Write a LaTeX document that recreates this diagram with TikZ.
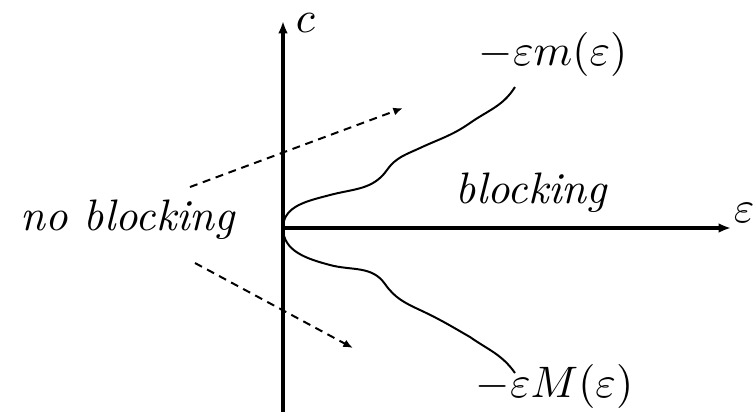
\documentclass[tikz,border=0pt]{standalone}
\usepackage{amsmath}
\usetikzlibrary{arrows.meta,positioning,calc}
\tikzset{
  axis/.style={
    line width=0.7pt,
    -{Latex[length=2.8pt,width=2.2pt]}
  },
  curve/.style={
    line width=0.45pt
  },
  hint/.style={
    line width=0.45pt,
    dash pattern=on 1.8pt off 1.3pt,
    -{Latex[length=2.2pt,width=1.8pt]}
  },
  region/.style={
    font=\itshape,
    inner sep=0pt
  }
}

\begin{document}
\begin{tikzpicture}[x=0.2268pt,y=0.2268pt]
\useasboundingbox (0,0) rectangle (756,417);

% axes
\coordinate (O) at (283,189);
\coordinate (cbot) at (283,5);
\coordinate (ctop) at (283,396);
\coordinate (eend) at (731,189);
\draw[axis] (cbot) -- (ctop);
\draw[axis] (O) -- (eend);
\node[anchor=base west, inner sep=0pt] (clab) at (295,385) {$c$};
\node[anchor=base west, inner sep=0pt] (elab) at (733,195) {$\varepsilon$};

% boundary curves
\node[anchor=base west, inner sep=0pt] (mlab) at (478,352) {$-\varepsilon m(\varepsilon)$};
\node[anchor=base west, inner sep=0pt] (Mlab) at (475,20) {$-\varepsilon M(\varepsilon)$};
\coordinate (mtip) at (515,330);
\coordinate (Mtip) at (515,44);
\draw[curve] (O) to[out=90,in=195] (330,222) to[out=15,in=235] (387,247)
  to[out=55,in=205] (420,269) to[out=25,in=215] (470,294) to[out=35,in=238] (mtip);
\draw[curve] (O) to[out=-90,in=165] (330,152) to[out=-15,in=125] (385,133)
  to[out=-55,in=155] (420,107) to[out=-25,in=150] (470,80) to[out=-35,in=125] (Mtip);

% regions
\node[region, anchor=base west] (blk) at (455,214) {blocking};
\node[region, anchor=base west] (noblk) at (20,187) {no blocking};
\coordinate (upfrom) at (190,230);
\coordinate (upto) at (403,309);
\coordinate (dnfrom) at (195,154);
\coordinate (dnto) at (353,69);
\draw[hint] (upfrom) -- (upto);
\draw[hint] (dnfrom) -- (dnto);

\end{tikzpicture}
\end{document}
